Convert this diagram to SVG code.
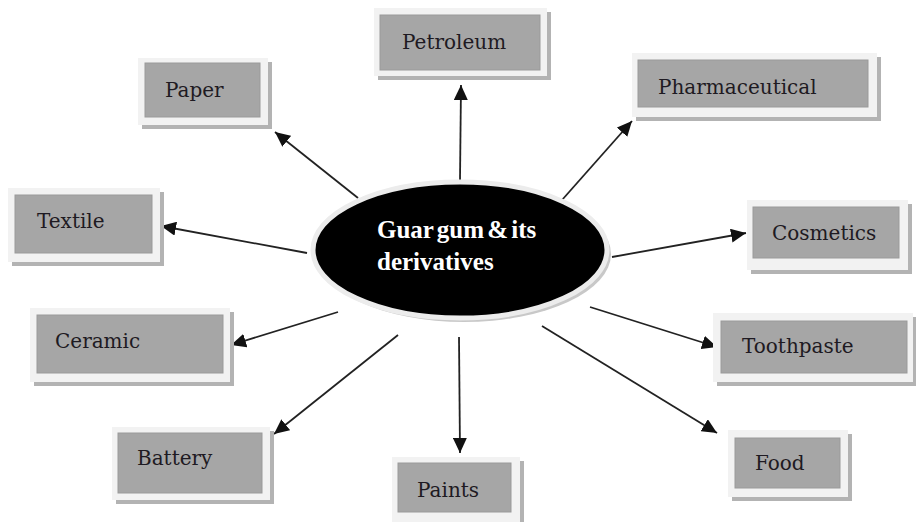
<svg xmlns="http://www.w3.org/2000/svg" width="916" height="522" viewBox="0 0 916 522">
<defs>
<style>
.sh{fill:#b3b3b3}
.out{fill:#f2f2f2}
.in{fill:#a6a6a6;stroke:#9a9a9a;stroke-width:1}
.lbl{font-family:"DejaVu Serif","Liberation Serif",serif;font-size:20px;fill:#1e1a22}
.ctr{font-family:"Liberation Serif","Times New Roman",serif;font-size:25px;font-weight:bold;fill:#ffffff}
.con{stroke:#222;stroke-width:1.8;fill:none;marker-end:url(#ah)}
</style>
<marker id="ah" markerUnits="userSpaceOnUse" markerWidth="16" markerHeight="14" refX="15" refY="7" orient="auto">
<path d="M0,0 L15,7 L0,14 Z" fill="#111"/>
</marker>
</defs>
<rect width="916" height="522" fill="#ffffff"/>
<g id="connectors">
<line class="con" x1="358" y1="198" x2="275" y2="132"/>
<line class="con" x1="460" y1="180" x2="461" y2="85"/>
<line class="con" x1="562" y1="200" x2="632" y2="121"/>
<line class="con" x1="307" y1="253" x2="161" y2="226"/>
<line class="con" x1="612" y1="257" x2="746" y2="233"/>
<line class="con" x1="338" y1="312" x2="231" y2="345"/>
<line class="con" x1="590" y1="307" x2="717" y2="347"/>
<line class="con" x1="398" y1="335" x2="274" y2="434"/>
<line class="con" x1="459" y1="337" x2="460" y2="453"/>
<line class="con" x1="542" y1="326" x2="717" y2="433"/>
</g>
<g id="center">
<ellipse cx="464" cy="254" rx="147" ry="68" fill="#c8c8c8"/>
<ellipse cx="460" cy="250" rx="147" ry="68" fill="#000" stroke="#ececec" stroke-width="5"/>
<text class="ctr" x="377" y="238" word-spacing="-3">Guar gum &amp; its</text>
<text class="ctr" x="377" y="270">derivatives</text>
</g>
<g id="paper">
<rect class="sh" x="142" y="62" width="130" height="67"/>
<rect class="out" x="138" y="58" width="130" height="67"/>
<rect class="in" x="145" y="63" width="115" height="54"/>
<text class="lbl" x="165" y="97">Paper</text>
</g>
<g id="petroleum">
<rect class="sh" x="378" y="12" width="173" height="68"/>
<rect class="out" x="374" y="8" width="173" height="68"/>
<rect class="in" x="380" y="15" width="160" height="55"/>
<text class="lbl" x="402" y="49">Petroleum</text>
</g>
<g id="pharmaceutical">
<rect class="sh" x="636" y="57" width="245" height="64"/>
<rect class="out" x="632" y="53" width="245" height="64"/>
<rect class="in" x="638" y="60" width="230" height="47"/>
<text class="lbl" x="658" y="94">Pharmaceutical</text>
</g>
<g id="textile">
<rect class="sh" x="12" y="192" width="152" height="74"/>
<rect class="out" x="8" y="188" width="152" height="74"/>
<rect class="in" x="15" y="195" width="137" height="58"/>
<text class="lbl" x="37" y="228">Textile</text>
</g>
<g id="cosmetics">
<rect class="sh" x="751" y="204" width="161" height="70"/>
<rect class="out" x="747" y="200" width="161" height="70"/>
<rect class="in" x="753" y="207" width="146" height="51"/>
<text class="lbl" x="772" y="240">Cosmetics</text>
</g>
<g id="ceramic">
<rect class="sh" x="34" y="312" width="200" height="74"/>
<rect class="out" x="30" y="308" width="200" height="74"/>
<rect class="in" x="37" y="315" width="186" height="58"/>
<text class="lbl" x="55" y="348">Ceramic</text>
</g>
<g id="toothpaste">
<rect class="sh" x="717" y="317" width="200" height="69"/>
<rect class="out" x="713" y="313" width="200" height="69"/>
<rect class="in" x="721" y="321" width="186" height="52"/>
<text class="lbl" x="742" y="353">Toothpaste</text>
</g>
<g id="battery">
<rect class="sh" x="116" y="431" width="158" height="73"/>
<rect class="out" x="112" y="427" width="158" height="73"/>
<rect class="in" x="118" y="433" width="144" height="60"/>
<text class="lbl" x="137" y="465">Battery</text>
</g>
<g id="paints">
<rect class="sh" x="396" y="461" width="128" height="65"/>
<rect class="out" x="392" y="457" width="128" height="65"/>
<rect class="in" x="398" y="463" width="113" height="49"/>
<text class="lbl" x="417" y="497">Paints</text>
</g>
<g id="food">
<rect class="sh" x="732" y="434" width="120" height="67"/>
<rect class="out" x="728" y="430" width="120" height="67"/>
<rect class="in" x="735" y="438" width="105" height="50"/>
<text class="lbl" x="755" y="470">Food</text>
</g>
</svg>
